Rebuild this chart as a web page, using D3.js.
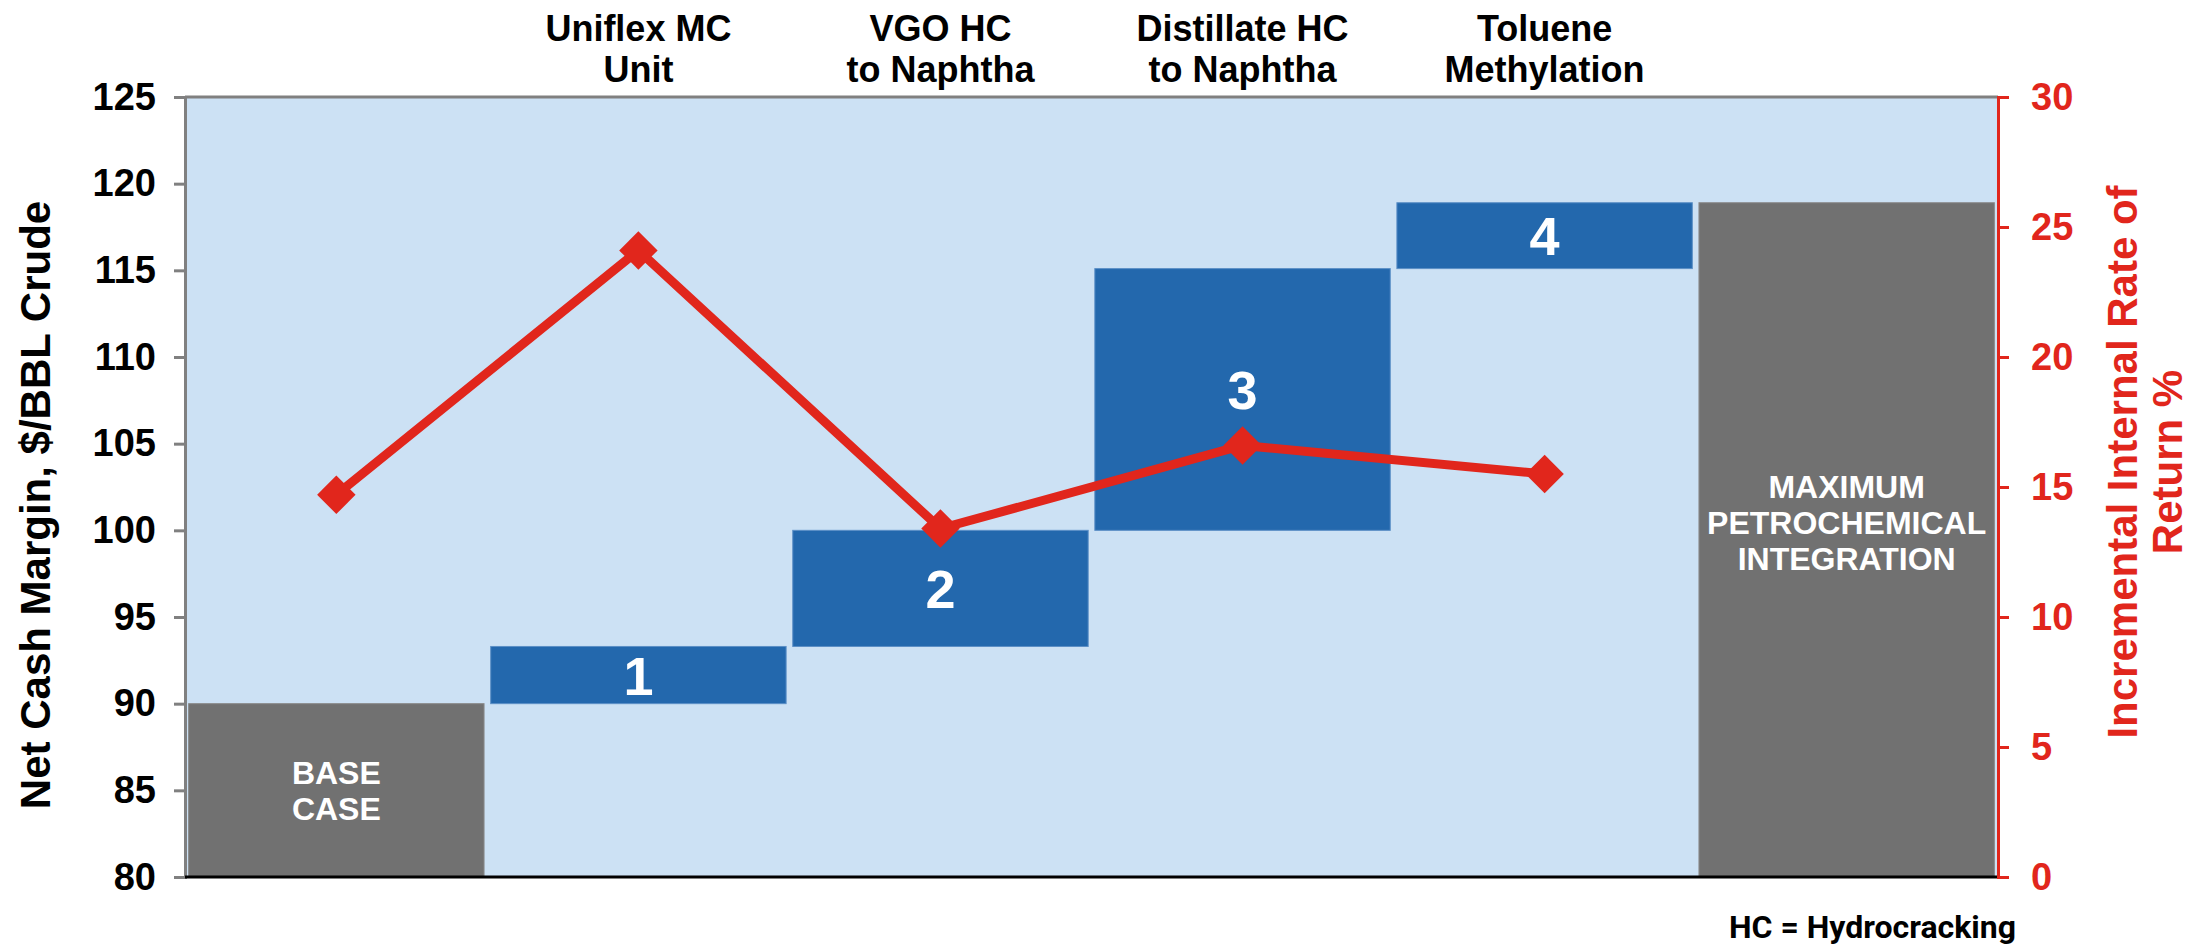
<!DOCTYPE html>
<html>
<head>
<meta charset="utf-8">
<script src="https://cdn.jsdelivr.net/npm/d3@7"></script>
<style>
  body { margin: 0; background: #fff; }
  svg { display: block; font-family: "Liberation Sans", Arial, sans-serif; }
</style>
</head>
<body>
<svg width="2210" height="946"></svg>
<script>
// categories along the bottom (six columns)
var categories = ["base", "uniflex", "vgo", "distillate", "toluene", "max"];
var topLabels = [[], ["Uniflex MC", "Unit"], ["VGO HC", "to Naphtha"], ["Distillate HC", "to Naphtha"], ["Toluene", "Methylation"], []];
var barLabels = [["BASE", "CASE"], ["1"], ["2"], ["3"], ["4"], ["MAXIMUM", "PETROCHEMICAL", "INTEGRATION"]];

// net cash margin, $/BBL
var baseCase = 90;
var increments = [3.3, 6.7, 15.1, 3.8];

// incremental IRR %, one per step incl. base case
var irr = [14.7, 24.1, 13.4, 16.6, 15.5];

var leftTicks = [80, 85, 90, 95, 100, 105, 110, 115, 120, 125];
var rightTicks = [0, 5, 10, 15, 20, 25, 30];

var svg = d3.select("svg"),
    margin = {top: 97, right: 212, bottom: 69, left: 185},
    width = +svg.attr("width") - margin.left - margin.right,
    height = +svg.attr("height") - margin.top - margin.bottom;

var red = "#e1261c", blue = "#2368ad", grey = "#717171";

// build waterfall rows
var rows = [], run = baseCase;
rows.push({key: "base", y0: 80, y1: baseCase, fill: grey});
increments.forEach(function(v, i) {
    rows.push({key: categories[i + 1], y0: run, y1: run + v, fill: blue});
    run += v;
});
rows.push({key: "max", y0: 80, y1: run, fill: grey});

var x = d3.scaleBand().domain(categories).range([0, width]).paddingInner(0.022).paddingOuter(0.012);
var y = d3.scaleLinear().domain([80, 125]).range([height, 0]);
var y2 = d3.scaleLinear().domain([0, 30]).range([height, 0]);

var g = svg.append("g").attr("transform", "translate(" + margin.left + "," + margin.top + ")");

g.append("rect").attr("width", width).attr("height", height).attr("fill", "#cce1f4");

g.selectAll(".bar")
    .data(rows)
    .enter().append("rect")
    .attr("class", "bar")
    .attr("x", function(d) { return x(d.key); })
    .attr("width", x.bandwidth())
    .attr("y", function(d) { return y(d.y1); })
    .attr("height", function(d) { return y(d.y0) - y(d.y1); })
    .attr("fill", function(d) { return d.fill; })
    .attr("stroke", function(d) { return d.fill == blue ? "#5b8fc6" : "#8a8a8a"; })
    .attr("stroke-width", 1);

// text inside bars
rows.forEach(function(d, i) {
    var lines = barLabels[i];
    var big = lines.length == 1;
    var fs = big ? 54 : 32, lh = big ? 0 : 36;
    var cy = (y(d.y0) + y(d.y1)) / 2;
    if (lines.length == 3) cy -= 17; // max label sits a bit high in the bar
    if (barLabels[i][0] == "3") cy -= 10;
    var t = g.append("text")
        .attr("text-anchor", "middle")
        .attr("fill", "#fff")
        .attr("font-weight", "bold")
        .attr("font-size", fs);
    lines.forEach(function(s, j) {
        t.append("tspan")
            .attr("x", x(d.key) + x.bandwidth() / 2)
            .attr("y", cy + (j - (lines.length - 1) / 2) * lh)
            .attr("dy", "0.36em")
            .text(s);
    });
});

// plot frame: grey top, black bottom
g.append("line").attr("x1", 0).attr("x2", width).attr("y1", 0).attr("y2", 0)
    .attr("stroke", "#808080").attr("stroke-width", 3);

// left axis
var ya = g.append("g")
    .call(d3.axisLeft(y).tickValues(leftTicks).tickSize(11).tickPadding(18));
ya.select(".domain").attr("stroke", "#808080").attr("stroke-width", 3);
ya.selectAll(".tick line").attr("stroke", "#808080").attr("stroke-width", 3);
ya.selectAll(".tick text").attr("font-size", 38).attr("font-weight", "bold")
    .attr("fill", "#000").attr("font-family", "Liberation Sans, Arial, sans-serif");

// bottom line
g.append("line").attr("x1", 0).attr("x2", width).attr("y1", height).attr("y2", height)
    .attr("stroke", "#000").attr("stroke-width", 3);

// right axis
var yb = g.append("g")
    .attr("transform", "translate(" + width + ",0)")
    .call(d3.axisRight(y2).tickValues(rightTicks).tickSize(11).tickPadding(22));
yb.select(".domain").attr("stroke", red).attr("stroke-width", 3);
yb.selectAll(".tick line").attr("stroke", red).attr("stroke-width", 3);
yb.selectAll(".tick text").attr("font-size", 38).attr("font-weight", "bold")
    .attr("fill", red).attr("font-family", "Liberation Sans, Arial, sans-serif");

// IRR line + diamonds
var pts = irr.map(function(v, i) { return {k: categories[i], v: v}; });
var line = d3.line()
    .x(function(d) { return x(d.k) + x.bandwidth() / 2; })
    .y(function(d) { return y2(d.v); });

g.append("path").datum(pts)
    .attr("d", line)
    .attr("fill", "none")
    .attr("stroke", red)
    .attr("stroke-width", 9)
    .attr("stroke-linejoin", "miter");

g.selectAll(".mark")
    .data(pts)
    .enter().append("path")
    .attr("class", "mark")
    .attr("d", d3.symbol().type(d3.symbolSquare).size(740))
    .attr("transform", function(d) {
        return "translate(" + (x(d.k) + x.bandwidth() / 2) + "," + y2(d.v) + ") rotate(45)";
    })
    .attr("fill", red);

// category headers above the plot
topLabels.forEach(function(lines, i) {
    if (!lines.length) return;
    var cx = margin.left + x(categories[i]) + x.bandwidth() / 2;
    var t = svg.append("text")
        .attr("text-anchor", "middle")
        .attr("font-weight", "bold")
        .attr("font-size", 36)
        .attr("fill", "#000");
    lines.forEach(function(s, j) {
        t.append("tspan")
            .attr("x", cx)
            .attr("y", 41 + j * 41)
            .text(s);
    });
});

// axis titles
svg.append("text")
    .attr("transform", "translate(50,505) rotate(-90)")
    .attr("text-anchor", "middle")
    .attr("font-weight", "bold")
    .attr("font-size", 42)
    .attr("fill", "#000")
    .text("Net Cash Margin, $/BBL Crude");

var rt = svg.append("text")
    .attr("transform", "translate(2137,462) rotate(-90)")
    .attr("text-anchor", "middle")
    .attr("font-weight", "bold")
    .attr("font-size", 42)
    .attr("fill", red);
["Incremental Internal Rate of", "Return %"].forEach(function(s, j) {
    rt.append("tspan").attr("x", 0).attr("y", j * 45).text(s);
});

// footnote
svg.append("text")
    .attr("x", 2016)
    .attr("y", 938)
    .attr("text-anchor", "end")
    .attr("font-weight", "bold")
    .attr("font-size", 32)
    .attr("font-family", "Roboto, 'Liberation Sans', sans-serif")
    .attr("fill", "#000")
    .text("HC = Hydrocracking");
</script>
</body>
</html>
